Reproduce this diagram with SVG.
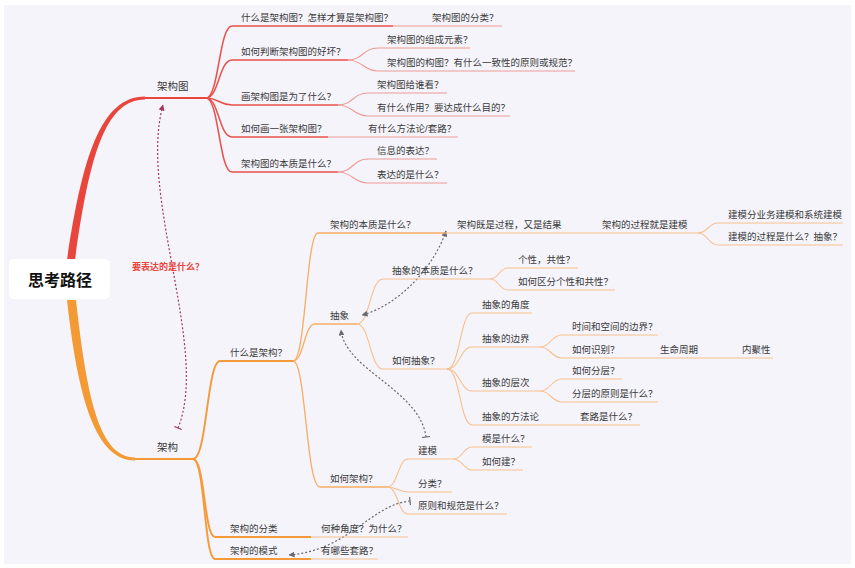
<svg xmlns="http://www.w3.org/2000/svg" width="855" height="568" viewBox="0 0 855 568">
<style>
.t{font-family:"Liberation Sans","Noto Sans CJK SC",sans-serif;font-size:9.5px;fill:#3a3a3a}
.m{font-size:10.5px}
.root{font-size:16px;font-weight:bold;fill:#111}
.lbl{font-size:9px;font-weight:bold;fill:#e8453c}
.r1{stroke:#e8514a;stroke-width:1.5;fill:none}
.r2{stroke:#ef9a95;stroke-width:1.1;fill:none}
.o0{stroke:#f59a3a;stroke-width:1.9;fill:none}
.o1{stroke:#f6ad62;stroke-width:1.3;fill:none}
.o2{stroke:#f7c08e;stroke-width:1.1;fill:none}
.rel{stroke:#6a6a6a;stroke-width:1.2;fill:none;stroke-dasharray:2 2}
.relr{stroke:#a3385a;stroke-width:1.2;fill:none;stroke-dasharray:2 2}
</style>
<defs>
<marker id="ag" viewBox="0 0 6 6" refX="5.5" refY="3" markerWidth="6" markerHeight="6" markerUnits="userSpaceOnUse" orient="auto-start-reverse"><path d="M0,0 L6,3 L0,6 z" fill="#6a6a6a"/></marker>
<marker id="bg" viewBox="0 0 2 8" refX="1" refY="4" markerWidth="2" markerHeight="8" markerUnits="userSpaceOnUse" orient="auto"><path d="M1,0 L1,8" stroke="#6a6a6a" stroke-width="1.2"/></marker>
<marker id="ar" viewBox="0 0 6 6" refX="5.5" refY="3" markerWidth="6" markerHeight="6" markerUnits="userSpaceOnUse" orient="auto"><path d="M0,0 L6,3 L0,6 z" fill="#a3385a"/></marker>
<marker id="br" viewBox="0 0 2 8" refX="1" refY="4" markerWidth="2" markerHeight="8" markerUnits="userSpaceOnUse" orient="auto"><path d="M1,0 L1,8" stroke="#a3385a" stroke-width="1.2"/></marker>
</defs>
<rect x="0" y="0" width="855" height="568" fill="#ffffff"/>
<rect x="4" y="5" width="847" height="559" fill="#f5f4fa"/>

<g id="connectors">
<!-- main branches -->
<path d="M67 260 C82 160 100 96.5 145 96.5 L145 99.5 C104 99.5 89 160 75 260 Z" fill="#e8453c"/>
<path d="M67 300 C78 400 96 460.5 135 460.5 L135 457.5 C100 457.5 87 400 76 300 Z" fill="#f39a35"/>
<!-- red level -->
<path class="r1" d="M206 98 C219 98 219 26 232 26"/>
<path class="r1" d="M206 98 C219 98 219 60 232 60"/>
<path class="r1" d="M206 98 C219 98 219 105 232 105"/>
<path class="r1" d="M206 98 C219 98 219 137 232 137"/>
<path class="r1" d="M206 98 C219 98 219 172 232 172"/>
<path class="r2" d="M348 60 C363 60 363 48 378 48"/>
<path class="r2" d="M348 60 C363 60 363 71 378 71"/>
<path class="r2" d="M338 105 C353 105 353 93 368 93"/>
<path class="r2" d="M338 105 C353 105 353 116 368 116"/>
<path class="r2" d="M338 172 C353 172 353 159 368 159"/>
<path class="r2" d="M338 172 C353 172 353 183 368 183"/>
<!-- orange level -->
<path class="o0" d="M193 459 C207 459 207 361 220 361"/>
<path class="o0" d="M193 459 C205 459 204 537 215 537"/>
<path class="o0" d="M193 459 C205 459 204 559 215 559"/>
<path class="o1" d="M293 361 C306 361 306 233 318 233"/>
<path class="o1" d="M293 361 C304 361 304 324 315 324"/>
<path class="o1" d="M293 361 C306 361 306 487 320 487"/>
<path class="o2" d="M357 324 C370 324 370 279 383 279"/>
<path class="o2" d="M357 324 C370 324 370 369 383 369"/>
<path class="o2" d="M490 279 C499 279 499 268 508 268"/>
<path class="o2" d="M490 279 C499 279 499 290 508 290"/>
<path class="o2" d="M447 369 C460 369 460 313 472 313"/>
<path class="o2" d="M447 369 C460 369 460 347 472 347"/>
<path class="o2" d="M447 369 C460 369 460 391 472 391"/>
<path class="o2" d="M447 369 C460 369 460 425 472 425"/>
<path class="o2" d="M540 347 C551 347 551 335 562 335"/>
<path class="o2" d="M540 347 C551 347 551 358 562 358"/>
<path class="o2" d="M540 391 C551 391 551 379 562 379"/>
<path class="o2" d="M540 391 C551 391 551 402 562 402"/>
<path class="o2" d="M387 487 C398 487 398 459 408 459"/>
<path class="o2" d="M387 487 C398 487 398 492 408 492"/>
<path class="o2" d="M387 487 C398 487 398 514 408 514"/>
<path class="o2" d="M453 459 C463 459 463 447 472 447"/>
<path class="o2" d="M453 459 C463 459 463 470 472 470"/>
<path class="o2" d="M698 233 C708 233 708 223 718 223"/>
<path class="o2" d="M698 233 C708 233 708 245 718 245"/>
<!-- relationships -->
<path class="relr" d="M178 428 C210 350 138 195 163 105" marker-start="url(#br)" marker-end="url(#ar)"/>
<path class="rel" d="M446 231 C435 265 400 305 362 315" marker-start="url(#ag)" marker-end="url(#ag)"/>
<path class="rel" d="M426 437 C420 390 345 370 341 330" marker-start="url(#bg)" marker-end="url(#ag)"/>
<path class="rel" d="M410 501 C370 505 350 550 289 555" marker-start="url(#bg)" marker-end="url(#ag)"/>
</g>

<g id="root"><rect x="9" y="259" width="101" height="40" rx="5" fill="#ffffff"/><text class="t root" x="60" y="286" text-anchor="middle">思考路径</text></g>
<g id="rel-label"><text class="t lbl" x="168" y="270" text-anchor="middle">要表达的是什么？</text></g>

<g id="n-jgt"><path d="M145 98 H206" stroke="#e8453c" stroke-width="2"/><text class="t m" x="157" y="90">架构图</text></g>
<g id="n-a"><path class="r1" d="M232 26 H393"/><text class="t" x="241" y="21">什么是架构图？怎样才算是架构图？</text></g>
<g id="n-a1"><path class="r2" d="M393 26 H502"/><text class="t" x="432" y="21">架构图的分类？</text></g>
<g id="n-b"><path class="r1" d="M232 60 H348"/><text class="t" x="241" y="55">如何判断架构图的好坏？</text></g>
<g id="n-b1"><path class="r2" d="M378 48 H470"/><text class="t" x="387" y="43">架构图的组成元素？</text></g>
<g id="n-b2"><path class="r2" d="M378 71 H575"/><text class="t" x="387" y="66">架构图的构图？有什么一致性的原则或规范？</text></g>
<g id="n-c"><path class="r1" d="M232 105 H338"/><text class="t" x="241" y="100">画架构图是为了什么？</text></g>
<g id="n-c1"><path class="r2" d="M368 93 H447"/><text class="t" x="377" y="88">架构图给谁看？</text></g>
<g id="n-c2"><path class="r2" d="M368 116 H510"/><text class="t" x="377" y="111">有什么作用？要达成什么目的？</text></g>
<g id="n-d"><path class="r1" d="M232 137 H328"/><text class="t" x="241" y="132">如何画一张架构图？</text></g>
<g id="n-d1"><path class="r2" d="M328 137 H458"/><text class="t" x="368" y="132">有什么方法论/套路？</text></g>
<g id="n-e"><path class="r1" d="M232 172 H338"/><text class="t" x="241" y="167">架构图的本质是什么？</text></g>
<g id="n-e1"><path class="r2" d="M368 159 H437"/><text class="t" x="377" y="154">信息的表达？</text></g>
<g id="n-e2"><path class="r2" d="M368 183 H447"/><text class="t" x="377" y="178">表达的是什么？</text></g>

<g id="n-jg"><path d="M135 459 H193" stroke="#f39a35" stroke-width="2"/><text class="t m" x="157" y="451">架构</text></g>
<g id="n-sm"><path class="o0" d="M220 361 H293"/><text class="t" x="230" y="356">什么是架构？</text></g>
<g id="n-bz"><path class="o1" d="M318 233 H445"/><text class="t" x="330" y="228">架构的本质是什么？</text></g>
<g id="n-bz1"><path class="o2" d="M445 233 H590"/><text class="t" x="457" y="228">架构既是过程，又是结果</text></g>
<g id="n-bz2"><path class="o2" d="M590 233 H698"/><text class="t" x="602" y="228">架构的过程就是建模</text></g>
<g id="n-bz3"><path class="o2" d="M718 223 H843"/><text class="t" x="728" y="218">建模分业务建模和系统建模</text></g>
<g id="n-bz4"><path class="o2" d="M718 245 H843"/><text class="t" x="728" y="240">建模的过程是什么？抽象？</text></g>
<g id="n-cx"><path class="o1" d="M315 324 H357"/><text class="t" x="330" y="319">抽象</text></g>
<g id="n-cx1"><path class="o2" d="M383 279 H490"/><text class="t" x="392" y="274">抽象的本质是什么？</text></g>
<g id="n-cx11"><path class="o2" d="M508 268 H578"/><text class="t" x="518" y="263">个性，共性？</text></g>
<g id="n-cx12"><path class="o2" d="M508 290 H615"/><text class="t" x="518" y="285">如何区分个性和共性？</text></g>
<g id="n-cx2"><path class="o2" d="M383 369 H447"/><text class="t" x="392" y="364">如何抽象？</text></g>
<g id="n-cx21"><path class="o2" d="M472 313 H532"/><text class="t" x="482" y="308">抽象的角度</text></g>
<g id="n-cx22"><path class="o2" d="M472 347 H540"/><text class="t" x="482" y="342">抽象的边界</text></g>
<g id="n-cx221"><path class="o2" d="M562 335 H658"/><text class="t" x="572" y="330">时间和空间的边界？</text></g>
<g id="n-cx222"><path class="o2" d="M562 358 H650"/><text class="t" x="572" y="353">如何识别？</text></g>
<g id="n-cx2221"><path class="o2" d="M650 358 H732"/><text class="t" x="660" y="353">生命周期</text></g>
<g id="n-cx2222"><path class="o2" d="M732 358 H773"/><text class="t" x="742" y="353">内聚性</text></g>
<g id="n-cx23"><path class="o2" d="M472 391 H540"/><text class="t" x="482" y="386">抽象的层次</text></g>
<g id="n-cx231"><path class="o2" d="M562 379 H622"/><text class="t" x="572" y="374">如何分层？</text></g>
<g id="n-cx232"><path class="o2" d="M562 402 H658"/><text class="t" x="572" y="397">分层的原则是什么？</text></g>
<g id="n-cx24"><path class="o2" d="M472 425 H570"/><text class="t" x="482" y="420">抽象的方法论</text></g>
<g id="n-cx241"><path class="o2" d="M570 425 H640"/><text class="t" x="580" y="420">套路是什么？</text></g>
<g id="n-rh"><path class="o1" d="M320 487 H387"/><text class="t" x="330" y="482">如何架构？</text></g>
<g id="n-jm"><path class="o2" d="M408 459 H453"/><text class="t" x="418" y="454">建模</text></g>
<g id="n-jm1"><path class="o2" d="M472 447 H532"/><text class="t" x="482" y="442">模是什么？</text></g>
<g id="n-jm2"><path class="o2" d="M472 470 H523"/><text class="t" x="482" y="465">如何建？</text></g>
<g id="n-fl"><path class="o2" d="M408 492 H452"/><text class="t" x="418" y="487">分类？</text></g>
<g id="n-yz"><path class="o2" d="M408 514 H507"/><text class="t" x="418" y="509">原则和规范是什么？</text></g>
<g id="n-jgfl"><path class="o0" d="M215 537 H311"/><text class="t" x="230" y="532">架构的分类</text></g>
<g id="n-jgfl1"><path class="o2" d="M311 537 H408"/><text class="t" x="321" y="532">何种角度？为什么？</text></g>
<g id="n-jgms"><path class="o0" d="M215 559 H311"/><text class="t" x="230" y="554">架构的模式</text></g>
<g id="n-jgms1"><path class="o2" d="M311 559 H378"/><text class="t" x="321" y="554">有哪些套路？</text></g>
</svg>
